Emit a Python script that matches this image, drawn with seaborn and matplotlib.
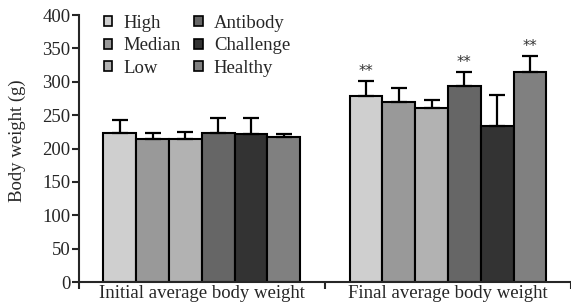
import numpy as np
import pandas as pd
import matplotlib
matplotlib.use("Agg")
import matplotlib.pyplot as plt
import seaborn as sns
from matplotlib.patches import Patch

groups = ["Initial average body weight", "Final average body weight"]
treatments = ["High", "Median", "Low", "Antibody", "Challenge", "Healthy"]
initial_means = [223, 214, 214, 223, 221, 217]
initial_errs = [20, 9, 11, 23, 24, 5]
final_means = [279, 269, 261, 293, 233, 314]
final_errs = [22, 22, 12, 22, 47, 25]
final_stars = ["**", "", "", "**", "", "**"]
colors = ["#cfcfcf", "#999999", "#b2b2b2", "#666666", "#333333", "#808080"]

df = pd.DataFrame({
    "group": [groups[0]] * 6 + [groups[1]] * 6,
    "treatment": treatments * 2,
    "value": initial_means + final_means,
    "err": initial_errs + final_errs,
    "star": [""] * 6 + final_stars,
})

sns.set_style("ticks")
plt.rcParams["font.family"] = ["Liberation Serif", "DejaVu Serif"]

fig = plt.figure(figsize=(5.71, 3.07), dpi=100)
ax = fig.add_axes([0.138, 0.0814, 0.862, 0.8697])

sns.barplot(data=df, x="group", y="value", hue="treatment", order=groups,
            hue_order=treatments, palette=colors, errorbar=None, width=0.8,
            edgecolor="black", linewidth=1.5, saturation=1, ax=ax, legend=False)

# error bars and stars on top of the bars
bars = [p for p in ax.patches if p.get_height() > 0]
bars = sorted(bars, key=lambda p: p.get_x())
lookup = df.set_index(["group", "treatment"])
for p in bars:
    cx = p.get_x() + p.get_width() / 2
    gi = int(round(cx))
    h = p.get_height()
    in_group = sorted([q for q in bars if int(round(q.get_x() + q.get_width() / 2)) == gi],
                      key=lambda q: q.get_x())
    ti = in_group.index(p)
    row = lookup.loc[(groups[gi], treatments[ti])]
    ax.errorbar(cx, h, yerr=[[0], [row["err"]]], fmt="none", ecolor="black",
                elinewidth=1.6, capsize=5.5, capthick=1.6, zorder=1)
    if row["star"]:
        ax.text(cx, h + row["err"] + 3, row["star"], ha="center", va="bottom",
                fontsize=10.5, family="DejaVu Sans", color="#333333")

ax.set_ylim(0, 400)
ax.set_xlim(-0.5, 1.5)
ax.set_yticks(np.arange(0, 401, 50))
ax.set_xlabel("")
ax.set_ylabel("Body weight (g)", fontsize=13.5)
ax.yaxis.set_label_coords(-0.108, 0.53)
ax.tick_params(axis="y", labelsize=13.5, length=5, width=1.5, pad=1)
ax.tick_params(axis="x", which="major", length=0, labelsize=13.5, pad=2)
ax.set_xticks([-0.5, 0.5, 1.5], minor=True)
ax.tick_params(axis="x", which="minor", length=5, width=1.5)
for s in ["top", "right"]:
    ax.spines[s].set_visible(False)
for s in ["left", "bottom"]:
    ax.spines[s].set_linewidth(1.5)

handles = [Patch(facecolor=c, edgecolor="black", linewidth=1.2, label=t)
           for c, t in zip(colors, treatments)]
ax.legend(handles=handles, ncol=2, loc="upper left", bbox_to_anchor=(0.051, 1.0),
          frameon=False, fontsize=13.5, handlelength=0.45, handleheight=0.45,
          handletextpad=0.6, columnspacing=0.7, labelspacing=0.29, borderpad=0,
          borderaxespad=0)

fig.savefig("out.png", dpi=100)
